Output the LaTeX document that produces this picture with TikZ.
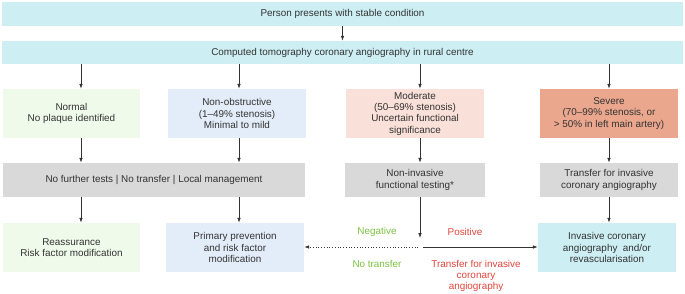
\documentclass[tikz,border=0pt]{standalone}
\usepackage{fontspec}
\setmainfont{Liberation Sans}
\usepackage{tikz}
\usetikzlibrary{arrows.meta}

\definecolor{boxcyan}{HTML}{CDEEF3}
\definecolor{boxgreen}{HTML}{EFFAEA}
\definecolor{boxblue}{HTML}{E3EDF9}
\definecolor{boxpeach}{HTML}{F9E0D8}
\definecolor{boxsalmon}{HTML}{EAA78D}
\definecolor{boxgrey}{HTML}{D9D9D9}
\definecolor{inkgrey}{HTML}{333333}
\definecolor{neggreen}{HTML}{7CC242}
\definecolor{posred}{HTML}{E0453A}

\begin{document}
\begin{tikzpicture}[x=1pt,y=-1pt,
		box/.style={rectangle,inner sep=0pt,align=center,text=inkgrey,
			font=\fontsize{9.9}{11.3}\selectfont,minimum height=49pt,minimum width=138pt},
		arr/.style={-{Latex[length=5pt,width=3.6pt]},draw=inkgrey,line width=0.75pt},
		lab/.style={align=center,font=\fontsize{9.9}{11.3}\selectfont}]
			% page size
			\useasboundingbox (0,0) rectangle (685,294);
			% arrow columns
			\coordinate (c1) at (81,0);
			\coordinate (c2) at (239,0);
			\coordinate (c3) at (420,0);
			\coordinate (c4) at (609,0);
			% top rows
			\node[box,fill=boxcyan,minimum width=681pt,minimum height=24pt] (present) at (342.5,14) {Person presents with stable condition};
			\node[box,fill=boxcyan,minimum width=681pt,minimum height=23pt] (ctca) at (342.5,52.5) {Computed tomography coronary angiography in rural centre};
			\draw[arr] (present.south) -- (ctca.north);
			% findings
			\node[box,fill=boxgreen,minimum width=137pt] (normal) at (71.5,113.5) {Normal\\No plaque identified};
			\node[box,fill=boxblue] (nonobs) at (237,113.5) {Non-obstructive\\(1--49\% stenosis)\\Minimal to mild};
			\node[box,fill=boxpeach] (moderate) at (415,113.5) {Moderate\\(50--69\% stenosis)\\Uncertain functional\\significance};
			\node[box,fill=boxsalmon] (severe) at (609,113.5) {Severe\\(70--99\% stenosis, or\\> 50\% in left main artery)};
			\foreach \n/\c in {normal/c1,nonobs/c2,moderate/c3,severe/c4}
				\draw[arr] (ctca.south -| \c) -- (\n.north -| \c);
			% management
			\node[box,fill=boxgrey,minimum width=302pt,minimum height=34pt] (local) at (154,180) {No further tests | No transfer | Local management};
			\node[box,fill=boxgrey,minimum width=140pt,minimum height=34pt] (noninv) at (415,180) {Non-invasive\\functional testing*};
			\node[box,fill=boxgrey,minimum height=34pt] (transfer) at (609,180) {Transfer for invasive\\coronary angiography};
			\draw[arr] (normal.south -| c1) -- (local.north -| c1);
			\draw[arr] (nonobs.south -| c2) -- (local.north -| c2);
			\draw[arr] (moderate.south -| c3) -- (noninv.north -| c3);
			\draw[arr] (severe.south -| c4) -- (transfer.north -| c4);
			% outcomes
			\node[box,fill=boxgreen,minimum width=137pt] (reassure) at (71.5,247.5) {Reassurance\\Risk factor modification};
			\node[box,fill=boxblue] (primary) at (235,247.5) {Primary prevention\\and risk factor\\modification};
			\node[box,fill=boxcyan] (invasive) at (607,247.5) {Invasive coronary\\angiography~ and/or\\revascularisation};
			\draw[arr] (local.south -| c1) -- (reassure.north -| c1);
			\draw[arr] (local.south -| c2) -- (primary.north -| c2);
			\draw[arr] (transfer.south -| c4) -- (invasive.north -| c4);
			% functional test result
			\coordinate (split) at (420,238);
			\coordinate (negend) at (418,247);
			\coordinate (posend) at (423,247);
			\draw[arr] (noninv.south -| c3) -- (split);
			\draw[arr,dotted] (negend) -- (primary.east |- negend);
			\draw[arr] (posend) -- (invasive.west |- posend);
			\node[lab,text=neggreen] (neg) at (377,232) {Negative};
			\node[lab,text=neggreen] (notrans) at (377,264) {No transfer};
			\node[lab,text=posred] (pos) at (465,232) {Positive};
			\node[lab,text=posred] (trans) at (476,276) {Transfer for invasive\\coronary\\angiography};
		\end{tikzpicture}
\end{document}
